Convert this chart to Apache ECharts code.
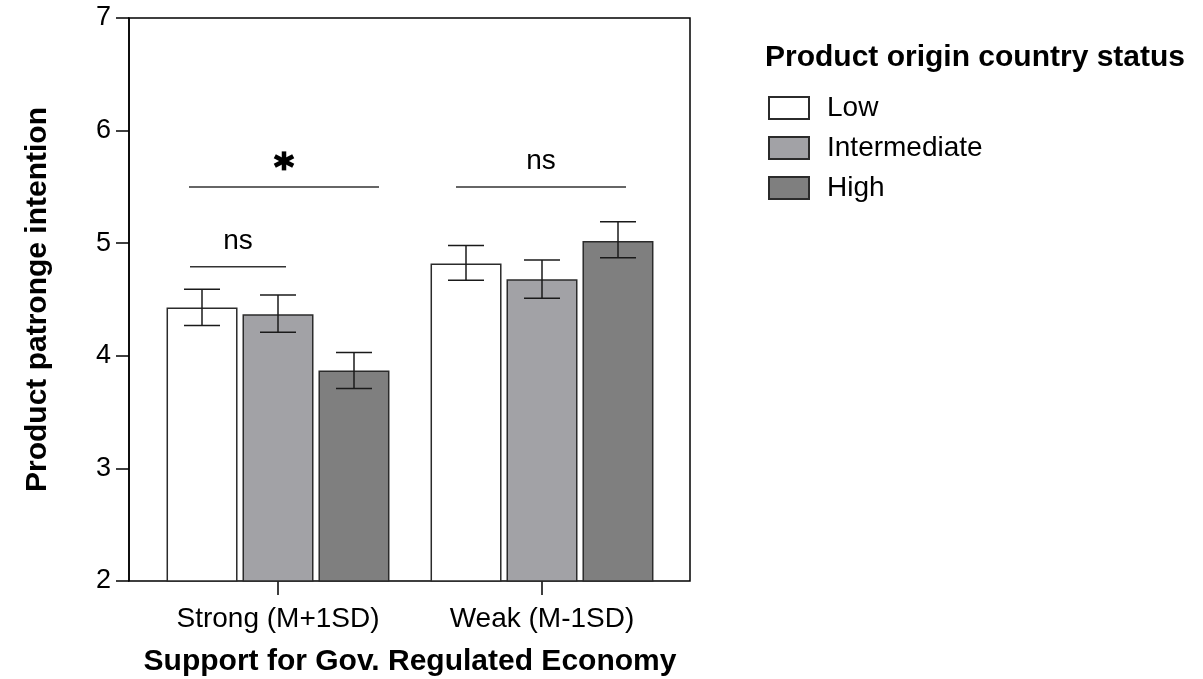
<!DOCTYPE html>
<html>
<head>
<meta charset="utf-8">
<script src="https://cdn.jsdelivr.net/npm/echarts@6/dist/echarts.min.js"></script>
<style>
html,body{margin:0;padding:0;background:#fff;}
#chart{width:1203px;height:679px;}
</style>
</head>
<body>
<div id="chart"></div>
<script>
// ---- data ----
var categories = ['Strong (M+1SD)', 'Weak (M-1SD)'];
var seriesNames = ['Low', 'Intermediate', 'High'];
var meanLow = [4.43, 4.82];
var meanIntermediate = [4.37, 4.68];
var meanHigh = [3.87, 5.02];
var upperLow = [4.59, 4.98];
var upperIntermediate = [4.54, 4.85];
var upperHigh = [4.03, 5.19];
var lowerLow = [4.27, 4.67];
var lowerIntermediate = [4.21, 4.51];
var lowerHigh = [3.71, 4.87];
var yTicks = [2, 3, 4, 5, 6, 7];
// significance annotations: category, from bar, to bar, line level, label
var sigCategory = [0, 0, 1];
var sigFromBar = [0, 0, 0];
var sigToBar = [1, 2, 2];
var sigLevel = [4.79, 5.5, 5.5];
var sigLabel = ['ns', '*', 'ns'];

var FONT = 'Liberation Sans, Arial, Helvetica, sans-serif';
var colors = ['#ffffff', '#a2a2a6', '#7f7f7f'];
var borderCol = '#2b2b2b';
var BAR_W = 71, BAR_STEP = 76;

var means = [meanLow, meanIntermediate, meanHigh];
var uppers = [upperLow, upperIntermediate, upperHigh];
var lowers = [lowerLow, lowerIntermediate, lowerHigh];

var barSeries = seriesNames.map(function (n, i) {
  return {
    name: n, type: 'bar', xAxisIndex: 1, yAxisIndex: 1,
    data: means[i], barWidth: BAR_W, barGap: '7%',
    itemStyle: { color: colors[i], borderColor: borderCol, borderWidth: 1.5 },
    z: 2
  };
});

var errData = [];
seriesNames.forEach(function (n, s) {
  categories.forEach(function (c, k) {
    errData.push([k, lowers[s][k], uppers[s][k], s]);
  });
});

var errSeries = {
  type: 'custom', xAxisIndex: 1, yAxisIndex: 1, z: 5, silent: true,
  data: errData,
  renderItem: function (params, api) {
    var k = api.value(0), s = api.value(3);
    var lo = api.coord([k, api.value(1)]);
    var hi = api.coord([k, api.value(2)]);
    var x = lo[0] + (s - 1) * BAR_STEP;
    var hw = 18;
    var st = { stroke: '#1a1a1a', lineWidth: 1.5 };
    return {
      type: 'group',
      children: [
        { type: 'line', shape: { x1: x, y1: lo[1], x2: x, y2: hi[1] }, style: st },
        { type: 'line', shape: { x1: x - hw, y1: lo[1], x2: x + hw, y2: lo[1] }, style: st },
        { type: 'line', shape: { x1: x - hw, y1: hi[1], x2: x + hw, y2: hi[1] }, style: st }
      ]
    };
  }
};

var sigData = sigCategory.map(function (c, i) {
  return [c, sigFromBar[i], sigToBar[i], sigLevel[i], i];
});
var padL = [12, 13, 10], padR = [8, 25, 8];

var sigSeries = {
  type: 'custom', xAxisIndex: 1, yAxisIndex: 1, z: 6, silent: true,
  data: sigData,
  renderItem: function (params, api) {
    var k = api.value(0), i = api.value(4);
    var p = api.coord([k, api.value(3)]);
    var x1 = p[0] + (api.value(1) - 1) * BAR_STEP - padL[i];
    var x2 = p[0] + (api.value(2) - 1) * BAR_STEP + padR[i];
    var y = p[1];
    var cx = (x1 + x2) / 2;
    var children = [
      { type: 'line', shape: { x1: x1, y1: y, x2: x2, y2: y }, style: { stroke: '#333', lineWidth: 1.5 } }
    ];
    var label = sigLabel[i];
    if (label === '*') {
      var sy = y - 26, r = 9.5, st = { stroke: '#000', lineWidth: 4.5, lineCap: 'butt' };
      var dx = r * Math.cos(Math.PI / 6) * 1.12, dy = r * Math.sin(Math.PI / 6);
      children.push({ type: 'line', shape: { x1: cx, y1: sy - r, x2: cx, y2: sy + r }, style: st });
      children.push({ type: 'line', shape: { x1: cx - dx, y1: sy - dy, x2: cx + dx, y2: sy + dy }, style: st });
      children.push({ type: 'line', shape: { x1: cx - dx, y1: sy + dy, x2: cx + dx, y2: sy - dy }, style: st });
    } else {
      children.push({
        type: 'text',
        style: { text: label, x: cx, y: y - 26, align: 'center', verticalAlign: 'middle',
                 font: '28px ' + FONT, fill: '#000' }
      });
    }
    return { type: 'group', children: children };
  }
};

var option = {
  backgroundColor: '#fff',
  animation: false,
  title: {
    text: 'Product origin country status',
    left: 760, top: 38,
    textStyle: { fontFamily: FONT, fontSize: 30, fontWeight: 'bold', color: '#000' }
  },
  legend: {
    orient: 'vertical', left: 763, top: 89,
    itemWidth: 40, itemHeight: 22, itemGap: 12,
    icon: 'rect',
    data: seriesNames,
    textStyle: { fontFamily: FONT, fontSize: 28, color: '#000', lineHeight: 22, padding: [0, 0, 0, 13] }
  },
  grid: [
    { left: 129, right: 513, top: 18, bottom: 98, show: true, borderColor: '#000', borderWidth: 1.5,
      backgroundColor: 'transparent', outerBoundsMode: 'none', containLabel: false },
    { left: 146, right: 529, top: 18, bottom: 98, outerBoundsMode: 'none', containLabel: false }
  ],
  xAxis: [
    { gridIndex: 0, type: 'category', data: categories, show: false },
    {
      gridIndex: 1, type: 'category', data: categories,
      axisLine: { show: false },
      axisTick: { show: true, alignWithLabel: true, length: 14, lineStyle: { color: '#000', width: 1.5 } },
      axisLabel: { fontFamily: FONT, fontSize: 28, color: '#000', margin: 24 },
      name: 'Support for Gov. Regulated Economy', nameLocation: 'middle', nameGap: 66,
      nameTextStyle: { fontFamily: FONT, fontSize: 30, fontWeight: 'bold', color: '#000' }
    }
  ],
  yAxis: [
    {
      gridIndex: 0, type: 'value', min: yTicks[0], max: yTicks[yTicks.length - 1], interval: 1,
      axisLine: { show: true, lineStyle: { color: '#000', width: 1.5 } },
      axisTick: { show: true, length: 13, lineStyle: { color: '#000', width: 1.5 } },
      axisLabel: { fontFamily: FONT, fontSize: 27, color: '#000', margin: 18 },
      splitLine: { show: false },
      name: 'Product patronge intention', nameLocation: 'middle', nameGap: 76,
      nameTextStyle: { fontFamily: FONT, fontSize: 30, fontWeight: 'bold', color: '#000' }
    },
    {
      gridIndex: 1, type: 'value', min: yTicks[0], max: yTicks[yTicks.length - 1], interval: 1,
      show: false, splitLine: { show: false }
    }
  ],
  series: barSeries.concat([errSeries, sigSeries])
};

var chart = echarts.init(document.getElementById('chart'), null, { renderer: 'canvas' });
chart.setOption(option);
</script>
</body>
</html>
